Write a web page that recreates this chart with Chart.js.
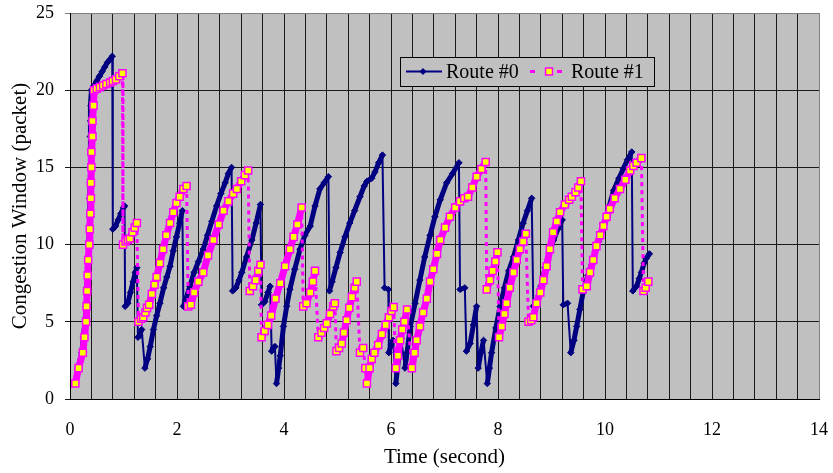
<!DOCTYPE html>
<html>
<head>
<meta charset="utf-8">
<script src="https://cdn.jsdelivr.net/npm/chart.js@4.4.1/dist/chart.umd.min.js"></script>
<style>
    html, body { margin: 0; padding: 0; background: #ffffff; }
</style>
</head>
<body>
<canvas id="graphique" width="833" height="473"></canvas>
<script>
// Données : [temps (s), fenêtre de congestion (paquets)]
const NOMS = ["Route #0", "Route #1"];
const X_ETIQUETTES = [0, 2, 4, 6, 8, 10, 12, 14];
const Y_ETIQUETTES = [0, 5, 10, 15, 20, 25];

const ROUTE0 = [
    [0.10, 1], [0.15, 2], [0.22, 3], [0.25, 4], [0.28, 5], [0.30, 6], [0.31, 7], [0.33, 8], [0.34, 9], [0.35, 10],
    [0.36, 11], [0.365, 12], [0.37, 13], [0.375, 14], [0.375, 15], [0.38, 16], [0.38, 17], [0.385, 18], [0.39, 19], [0.40, 20],
    [0.45, 20.3], [0.50, 20.6], [0.55, 20.9], [0.60, 21.2], [0.65, 21.5], [0.70, 21.8], [0.75, 22.0], [0.79, 22.2],
    [0.80, 11.0], [0.85, 11.2], [0.90, 11.6], [0.95, 12.0], [1.00, 12.4], [1.02, 12.5],
    [1.03, 6.0], [1.08, 6.2], [1.13, 6.9], [1.18, 7.6], [1.22, 8.2], [1.25, 8.5],
    [1.27, 4.0], [1.30, 4.1], [1.34, 4.5],
    [1.40, 2.0], [1.45, 2.6], [1.50, 3.4], [1.56, 4.5], [1.62, 5.4], [1.68, 6.2], [1.75, 7.2], [1.81, 7.9], [1.87, 8.6],
    [1.93, 9.6], [1.99, 10.5], [2.05, 11.4], [2.10, 12.2],
    [2.12, 6.0], [2.16, 6.4], [2.24, 7.3], [2.32, 8.2], [2.40, 8.9], [2.49, 9.7], [2.57, 10.6], [2.65, 11.5], [2.74, 12.5],
    [2.82, 13.3], [2.90, 14.0], [2.96, 14.6], [3.02, 15.0],
    [3.04, 7.0], [3.10, 7.2], [3.16, 7.7], [3.21, 8.2], [3.30, 9.2], [3.40, 10.3], [3.48, 11.4], [3.56, 12.6],
    [3.58, 6.1], [3.64, 6.3], [3.70, 6.9], [3.74, 7.3],
    [3.77, 3.1], [3.80, 3.3], [3.83, 3.4],
    [3.86, 1.0], [3.90, 2.0], [3.93, 2.8], [3.99, 4.7], [4.05, 6.0], [4.11, 7.1], [4.20, 8.4], [4.30, 9.7], [4.39, 10.6],
    [4.49, 11.2], [4.58, 12.5], [4.67, 13.6], [4.75, 14.0], [4.83, 14.4],
    [4.85, 7.0], [4.90, 7.6], [4.97, 8.5], [5.05, 9.5], [5.14, 10.5], [5.23, 11.4], [5.32, 12.2], [5.42, 13.1], [5.50, 13.8],
    [5.55, 14.1], [5.64, 14.3], [5.70, 14.7], [5.77, 15.3], [5.84, 15.8],
    [5.88, 7.2], [5.95, 7.1],
    [5.96, 3.0], [6.00, 3.5], [6.04, 3.8],
    [6.09, 1.0], [6.14, 2.6], [6.19, 3.9], [6.26, 2.0], [6.30, 3.0], [6.36, 4.7], [6.45, 6.2], [6.54, 7.7], [6.63, 9.2],
    [6.73, 10.6], [6.82, 11.8], [6.92, 12.9], [7.04, 14.0], [7.15, 14.6], [7.27, 15.3],
    [7.29, 7.1], [7.38, 7.2],
    [7.41, 3.1], [7.48, 3.6], [7.54, 4.8], [7.60, 6.0],
    [7.63, 2.0], [7.68, 3.0], [7.73, 3.8],
    [7.80, 1.0], [7.84, 2.0], [7.88, 3.0], [7.96, 4.6], [8.04, 6.0], [8.12, 7.2], [8.20, 8.3], [8.29, 9.2], [8.38, 10.3],
    [8.47, 11.4], [8.55, 12.2], [8.63, 13.0],
    [8.66, 6.0], [8.72, 6.3], [8.80, 7.3], [8.88, 8.5], [8.96, 9.5], [9.04, 10.3], [9.12, 11.0], [9.20, 11.6],
    [9.22, 6.1], [9.30, 6.2],
    [9.36, 3.0], [9.42, 3.8], [9.47, 4.7], [9.53, 5.8], [9.59, 6.9], [9.68, 8.0], [9.78, 9.1], [9.88, 10.2], [9.98, 11.3],
    [10.08, 12.5], [10.16, 13.5], [10.26, 14.3], [10.34, 14.9], [10.42, 15.5], [10.50, 16.0],
    [10.52, 7.0], [10.59, 7.3], [10.64, 7.8], [10.68, 8.2], [10.73, 8.8], [10.77, 9.1], [10.83, 9.4]
];

const ROUTE1 = [
    [0.10, 1], [0.16, 2], [0.24, 3], [0.27, 4], [0.30, 5], [0.31, 6], [0.32, 7], [0.33, 8], [0.34, 9], [0.36, 10],
    [0.37, 11], [0.38, 12], [0.39, 13], [0.39, 14], [0.40, 15], [0.40, 16], [0.42, 17], [0.42, 18], [0.44, 19], [0.45, 20],
    [0.50, 20.1], [0.56, 20.2], [0.62, 20.3], [0.68, 20.4], [0.75, 20.5], [0.80, 20.6], [0.86, 20.7], [0.92, 20.9], [0.98, 21.1],
    [0.99, 10.0], [1.04, 10.2], [1.08, 10.3], [1.12, 10.4], [1.17, 10.8], [1.21, 11.1], [1.25, 11.4],
    [1.28, 5.0], [1.33, 5.2], [1.37, 5.3], [1.41, 5.6], [1.44, 5.9], [1.48, 6.1], [1.53, 6.8], [1.58, 7.4], [1.62, 7.9],
    [1.68, 8.8], [1.74, 9.7], [1.80, 10.6], [1.87, 11.4], [1.93, 12.1], [1.99, 12.7], [2.05, 13.1], [2.12, 13.6], [2.18, 13.8],
    [2.21, 6.0], [2.26, 6.1], [2.32, 6.9], [2.40, 7.6], [2.49, 8.2], [2.58, 9.3], [2.68, 10.3], [2.78, 11.3], [2.87, 12.2],
    [2.96, 12.8], [3.05, 13.3], [3.12, 13.6], [3.20, 14.1], [3.27, 14.5], [3.33, 14.8],
    [3.36, 7.0], [3.42, 7.3], [3.47, 7.7], [3.52, 8.3], [3.56, 8.7],
    [3.58, 4.0], [3.64, 4.4], [3.70, 4.8], [3.76, 5.4], [3.84, 6.5], [3.93, 7.5], [4.02, 8.6], [4.11, 9.7], [4.18, 10.5],
    [4.25, 11.3], [4.33, 12.4],
    [4.36, 6.0], [4.42, 6.2], [4.49, 6.9], [4.54, 7.6], [4.58, 8.3],
    [4.64, 4.0], [4.70, 4.3], [4.75, 4.6], [4.80, 4.9], [4.86, 5.5], [4.92, 6.0], [4.95, 6.2],
    [4.98, 3.1], [5.03, 3.3], [5.08, 3.6], [5.12, 4.3], [5.17, 5.1], [5.22, 5.9], [5.27, 6.6], [5.32, 7.2], [5.36, 7.6],
    [5.42, 3.0], [5.48, 3.3],
    [5.52, 2.0], [5.55, 1.0], [5.60, 2.0], [5.64, 2.6], [5.69, 3.0], [5.76, 3.5], [5.83, 4.2], [5.90, 4.8], [5.96, 5.3],
    [6.01, 5.7], [6.05, 5.95],
    [6.09, 2.0], [6.13, 2.8], [6.17, 3.8], [6.21, 4.5], [6.25, 5.0], [6.30, 5.8],
    [6.39, 2.0], [6.44, 3.0], [6.48, 3.8], [6.54, 4.7], [6.60, 5.6], [6.67, 6.5], [6.73, 7.6], [6.79, 8.4], [6.86, 9.4],
    [6.92, 10.3], [7.01, 11.1], [7.10, 11.8], [7.20, 12.4], [7.29, 12.8], [7.37, 13.0], [7.44, 13.1], [7.52, 13.7],
    [7.60, 14.4], [7.69, 14.9], [7.77, 15.35],
    [7.79, 7.1], [7.85, 7.7], [7.90, 8.3], [7.95, 8.9], [7.99, 9.5],
    [8.02, 4.0], [8.07, 4.7], [8.12, 5.5], [8.16, 6.2], [8.22, 7.2], [8.29, 8.2], [8.35, 9.0], [8.41, 9.7], [8.47, 10.2], [8.52, 10.7],
    [8.57, 5.0], [8.62, 5.1], [8.66, 5.3], [8.72, 6.2], [8.79, 6.9], [8.85, 7.7], [8.91, 8.6], [8.97, 9.7], [9.03, 10.8],
    [9.10, 11.5], [9.16, 12.1], [9.25, 12.6], [9.33, 12.9], [9.38, 13.1], [9.45, 13.4], [9.50, 13.7], [9.55, 14.1],
    [9.58, 7.1], [9.66, 7.3], [9.72, 8.2], [9.78, 9.0], [9.84, 9.9], [9.91, 10.6], [9.97, 11.2], [10.03, 11.8], [10.09, 12.3],
    [10.18, 13.0], [10.28, 13.6], [10.38, 14.2], [10.47, 14.8], [10.53, 15.1], [10.59, 15.3], [10.68, 15.6],
    [10.72, 7.0], [10.76, 7.2], [10.81, 7.6]
];

const BLEU = '#000080';
const MAGENTA = '#FF00FF';
const JAUNE = '#FFFF00';
const GRIS = '#C0C0C0';

function enPoints(liste) {
    let points = [];
    for (let i = 0; i < liste.length; i++) points.push({ x: liste[i][0], y: liste[i][1] });
    return points;
}

function estDans(valeur, etiquettes) {
    for (let i = 0; i < etiquettes.length; i++) {
        if (Math.abs(valeur - etiquettes[i]) < 1e-6) return true;
    }
    return false;
}

function monte(c) { return c.p1.parsed.y >= c.p0.parsed.y; }

// Fond gris de la zone de tracé
const fondGris = {
    id: 'fondGris',
    beforeDraw(chart) {
        let a = chart.chartArea;
        let ctx = chart.ctx;
        ctx.save();
        ctx.fillStyle = GRIS;
        ctx.fillRect(a.left, a.top, a.right - a.left, a.bottom - a.top);
        ctx.restore();
    }
};

// Légende dessinée dans la zone de tracé
const legendeInterne = {
    id: 'legendeInterne',
    afterDraw(chart) {
        let ctx = chart.ctx;
        let a = chart.chartArea;
        let x = a.left + 330, y = a.top + 44, w = 254, h = 29;
        let cy = y + h / 2;
        ctx.save();
        ctx.fillStyle = GRIS;
        ctx.fillRect(x, y, w, h);
        ctx.strokeStyle = '#000000';
        ctx.lineWidth = 1;
        ctx.strokeRect(x + 0.5, y + 0.5, w, h);

        // Route #0
        ctx.strokeStyle = BLEU;
        ctx.lineWidth = 2;
        ctx.beginPath(); ctx.moveTo(x + 6, cy); ctx.lineTo(x + 42, cy); ctx.stroke();
        ctx.fillStyle = BLEU;
        ctx.beginPath();
        ctx.moveTo(x + 23, cy - 3.5); ctx.lineTo(x + 26.5, cy); ctx.lineTo(x + 23, cy + 3.5); ctx.lineTo(x + 19.5, cy);
        ctx.closePath(); ctx.fill();

        ctx.font = '20px "Liberation Serif", "Times New Roman", serif';
        ctx.textBaseline = 'middle';
        ctx.fillStyle = '#000000';
        ctx.fillText(chart.data.datasets[1].label, x + 46, cy + 1);

        // Route #1
        ctx.fillStyle = MAGENTA;
        ctx.fillRect(x + 130, cy - 1.5, 5, 3);
        ctx.fillRect(x + 157, cy - 1.5, 5, 3);
        ctx.fillStyle = JAUNE;
        ctx.fillRect(x + 145.5, cy - 3.5, 7, 7);
        ctx.strokeStyle = MAGENTA;
        ctx.lineWidth = 1.5;
        ctx.strokeRect(x + 145.5, cy - 3.5, 7, 7);
        ctx.fillStyle = '#000000';
        ctx.fillText(chart.data.datasets[0].label, x + 171, cy + 1);
        ctx.restore();
    }
};

Chart.defaults.font.family = '"Liberation Serif", "Times New Roman", serif';
Chart.defaults.font.size = 18;
Chart.defaults.color = '#000000';

new Chart(document.getElementById('graphique'), {
    type: 'scatter',
    data: {
        datasets: [
            {
                label: NOMS[1],
                data: enPoints(ROUTE1),
                showLine: true,
                order: 0,
                borderColor: MAGENTA,
                borderWidth: 3,
                borderDash: [],
                segment: {
                    borderWidth: c => monte(c) ? 7 : 3,
                    borderDash: c => monte(c) ? [] : [4, 4]
                },
                pointStyle: 'rect',
                pointRadius: 5,
                pointBackgroundColor: JAUNE,
                pointBorderColor: MAGENTA,
                pointBorderWidth: 1.5
            },
            {
                label: NOMS[0],
                data: enPoints(ROUTE0),
                showLine: true,
                order: 1,
                borderColor: BLEU,
                borderWidth: 2,
                segment: {
                    borderWidth: c => monte(c) ? 5 : 2
                },
                pointStyle: 'rectRot',
                pointRadius: 3.2,
                pointBackgroundColor: BLEU,
                pointBorderColor: BLEU,
                pointBorderWidth: 1
            }
        ]
    },
    options: {
        responsive: false,
        animation: false,
        devicePixelRatio: 1,
        layout: { padding: { top: 13, right: 14, left: 0, bottom: 0 } },
        plugins: { legend: { display: false }, tooltip: { enabled: false } },
        scales: {
            x: {
                type: 'linear',
                min: 0, max: 14,
                afterFit: function (axe) { axe.height = 74; axe.paddingLeft = 0; axe.paddingRight = 0; },
                ticks: {
                    stepSize: 0.4,
                    autoSkip: false,
                    maxRotation: 0,
                    padding: 20,
                    callback: function (v) { return estDans(v, X_ETIQUETTES) ? String(Math.round(v)) : ''; }
                },
                grid: {
                    drawTicks: false,
                    lineWidth: 1,
                    color: c => (c.tick && Math.abs(c.tick.value - 14) < 1e-6) ? '#808080' : '#1a1a1a'
                },
                border: { color: '#000000', width: 1 },
                title: { display: true, text: 'Time (second)', font: { size: 21 }, padding: { top: 3, bottom: 3 } }
            },
            y: {
                min: 0, max: 25,
                afterFit: function (axe) { axe.width = 70; axe.paddingTop = 0; axe.paddingBottom = 0; },
                ticks: {
                    stepSize: 5,
                    padding: 11,
                    callback: function (v) { return estDans(v, Y_ETIQUETTES) ? String(v) : ''; }
                },
                grid: {
                    tickLength: 5,
                    lineWidth: 1,
                    color: c => (c.tick && c.tick.value === 25) ? '#808080' : '#1a1a1a'
                },
                border: { color: '#000000', width: 1 },
                title: { display: true, text: 'Congestion Window (packet)', font: { size: 21 }, padding: { top: 8, bottom: 8 } }
            }
        }
    },
    plugins: [fondGris, legendeInterne]
});
</script>
</body>
</html>
